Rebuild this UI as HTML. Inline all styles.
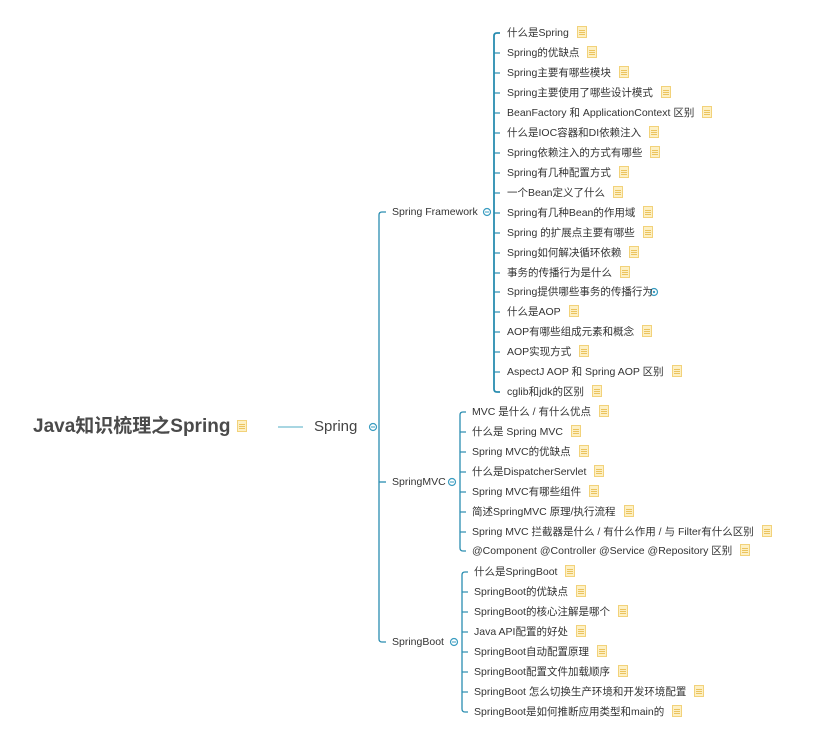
<!DOCTYPE html>
<html><head><meta charset="utf-8">
<style>
html,body{margin:0;padding:0;background:#fff;}
body{width:831px;height:738px;position:relative;overflow:hidden;font-family:"Liberation Sans","Noto Sans CJK SC",sans-serif;color:#333;}
.t{position:absolute;font-size:10.5px;line-height:14px;white-space:nowrap;}
.n{display:inline-block;width:10px;height:12px;background:#fdf0c4;border:1px solid #f2d27a;box-sizing:border-box;margin-left:8px;vertical-align:-2px;position:relative;}
.n:before{content:"";position:absolute;left:1px;right:1px;top:3px;height:1px;background:#ebc35e;box-shadow:0 2px 0 #ebc35e,0 4px 0 #ebc35e;}
.l1{position:absolute;font-size:10.5px;line-height:14px;white-space:nowrap;color:#333;}
</style></head><body>
<svg width="831" height="738" style="position:absolute;left:0;top:0">
<g fill="none" stroke="#2a8db0" stroke-width="1.3">
<line x1="278" y1="427" x2="303" y2="427" stroke="#8cc8d8" stroke-width="1.5"/>
<path d="M386 212 H382 Q379 212 379 215 V639 Q379 642 382 642 H386"/>
<line x1="379" y1="482" x2="386" y2="482"/>
<path d="M500 33 H497 Q494 33 494 36 V389 Q494 392 497 392 H500" stroke-width="1.8"/>
<path d="M466 412 H463 Q460 412 460 415 V548 Q460 551 463 551 H466"/>
<path d="M468 572 H465 Q462 572 462 575 V709 Q462 712 465 712 H468"/>
</g>
<g stroke="#2a8db0" stroke-width="1.2">
<line x1="494" y1="53" x2="500" y2="53"/><line x1="494" y1="73" x2="500" y2="73"/><line x1="494" y1="93" x2="500" y2="93"/><line x1="494" y1="113" x2="500" y2="113"/><line x1="494" y1="133" x2="500" y2="133"/><line x1="494" y1="153" x2="500" y2="153"/><line x1="494" y1="173" x2="500" y2="173"/><line x1="494" y1="193" x2="500" y2="193"/><line x1="494" y1="213" x2="500" y2="213"/><line x1="494" y1="233" x2="500" y2="233"/><line x1="494" y1="253" x2="500" y2="253"/><line x1="494" y1="273" x2="500" y2="273"/><line x1="494" y1="292" x2="500" y2="292"/><line x1="494" y1="312" x2="500" y2="312"/><line x1="494" y1="332" x2="500" y2="332"/><line x1="494" y1="352" x2="500" y2="352"/><line x1="494" y1="372" x2="500" y2="372"/>
<line x1="460" y1="432" x2="466" y2="432"/><line x1="460" y1="452" x2="466" y2="452"/><line x1="460" y1="472" x2="466" y2="472"/><line x1="460" y1="492" x2="466" y2="492"/><line x1="460" y1="512" x2="466" y2="512"/><line x1="460" y1="532" x2="466" y2="532"/>
<line x1="462" y1="592" x2="468" y2="592"/><line x1="462" y1="612" x2="468" y2="612"/><line x1="462" y1="632" x2="468" y2="632"/><line x1="462" y1="652" x2="468" y2="652"/><line x1="462" y1="672" x2="468" y2="672"/><line x1="462" y1="692" x2="468" y2="692"/>
</g>
<g fill="#fff" stroke="#3a9cc0" stroke-width="1.2">
<circle cx="373" cy="427" r="3.5"/><circle cx="487" cy="212" r="3.5"/><circle cx="452" cy="482" r="3.5"/><circle cx="454" cy="642" r="3.5"/><circle cx="654" cy="292" r="3.5"/>
</g>
<g stroke="#3a9cc0" stroke-width="1"><line x1="371" y1="427" x2="375" y2="427"/><line x1="485" y1="212" x2="489" y2="212"/><line x1="450" y1="482" x2="454" y2="482"/><line x1="452" y1="642" x2="456" y2="642"/></g>
<circle cx="654" cy="292" r="1.2" fill="#3a9cc0"/>
</svg>

<div style="position:absolute;left:33px;top:413px;font-size:19px;line-height:28px;font-weight:bold;color:#4a4a4a;white-space:nowrap;">Java知识梳理之Spring<span class="n" style="margin-left:7px;vertical-align:0"></span></div>
<div style="position:absolute;left:314px;top:418px;font-size:15px;line-height:18px;color:#444;">Spring</div>

<div class="l1" style="left:392px;top:205px">Spring Framework</div>
<div class="l1" style="left:392px;top:475px">SpringMVC</div>
<div class="l1" style="left:392px;top:635px">SpringBoot</div>

<div class="t" style="left:507px;top:26px">什么是Spring<span class="n"></span></div>
<div class="t" style="left:507px;top:46px">Spring的优缺点<span class="n"></span></div>
<div class="t" style="left:507px;top:66px">Spring主要有哪些模块<span class="n"></span></div>
<div class="t" style="left:507px;top:86px">Spring主要使用了哪些设计模式<span class="n"></span></div>
<div class="t" style="left:507px;top:106px">BeanFactory 和 ApplicationContext 区别<span class="n"></span></div>
<div class="t" style="left:507px;top:126px">什么是IOC容器和DI依赖注入<span class="n"></span></div>
<div class="t" style="left:507px;top:146px">Spring依赖注入的方式有哪些<span class="n"></span></div>
<div class="t" style="left:507px;top:166px">Spring有几种配置方式<span class="n"></span></div>
<div class="t" style="left:507px;top:186px">一个Bean定义了什么<span class="n"></span></div>
<div class="t" style="left:507px;top:206px">Spring有几种Bean的作用域<span class="n"></span></div>
<div class="t" style="left:507px;top:226px">Spring 的扩展点主要有哪些<span class="n"></span></div>
<div class="t" style="left:507px;top:246px">Spring如何解决循环依赖<span class="n"></span></div>
<div class="t" style="left:507px;top:266px">事务的传播行为是什么<span class="n"></span></div>
<div class="t" style="left:507px;top:285px">Spring提供哪些事务的传播行为</div>
<div class="t" style="left:507px;top:305px">什么是AOP<span class="n"></span></div>
<div class="t" style="left:507px;top:325px">AOP有哪些组成元素和概念<span class="n"></span></div>
<div class="t" style="left:507px;top:345px">AOP实现方式<span class="n"></span></div>
<div class="t" style="left:507px;top:365px">AspectJ AOP 和 Spring AOP 区别<span class="n"></span></div>
<div class="t" style="left:507px;top:385px">cglib和jdk的区别<span class="n"></span></div>

<div class="t" style="left:472px;top:405px">MVC 是什么 / 有什么优点<span class="n"></span></div>
<div class="t" style="left:472px;top:425px">什么是 Spring MVC<span class="n"></span></div>
<div class="t" style="left:472px;top:445px">Spring MVC的优缺点<span class="n"></span></div>
<div class="t" style="left:472px;top:465px">什么是DispatcherServlet<span class="n"></span></div>
<div class="t" style="left:472px;top:485px">Spring MVC有哪些组件<span class="n"></span></div>
<div class="t" style="left:472px;top:505px">简述SpringMVC 原理/执行流程<span class="n"></span></div>
<div class="t" style="left:472px;top:525px">Spring MVC  拦截器是什么 / 有什么作用 / 与 Filter有什么区别<span class="n"></span></div>
<div class="t" style="left:472px;top:544px">@Component @Controller @Service @Repository 区别<span class="n"></span></div>

<div class="t" style="left:474px;top:565px">什么是SpringBoot<span class="n"></span></div>
<div class="t" style="left:474px;top:585px">SpringBoot的优缺点<span class="n"></span></div>
<div class="t" style="left:474px;top:605px">SpringBoot的核心注解是哪个<span class="n"></span></div>
<div class="t" style="left:474px;top:625px">Java API配置的好处<span class="n"></span></div>
<div class="t" style="left:474px;top:645px">SpringBoot自动配置原理<span class="n"></span></div>
<div class="t" style="left:474px;top:665px">SpringBoot配置文件加载顺序<span class="n"></span></div>
<div class="t" style="left:474px;top:685px">SpringBoot 怎么切换生产环境和开发环境配置<span class="n"></span></div>
<div class="t" style="left:474px;top:705px">SpringBoot是如何推断应用类型和main的<span class="n"></span></div>
</body></html>
